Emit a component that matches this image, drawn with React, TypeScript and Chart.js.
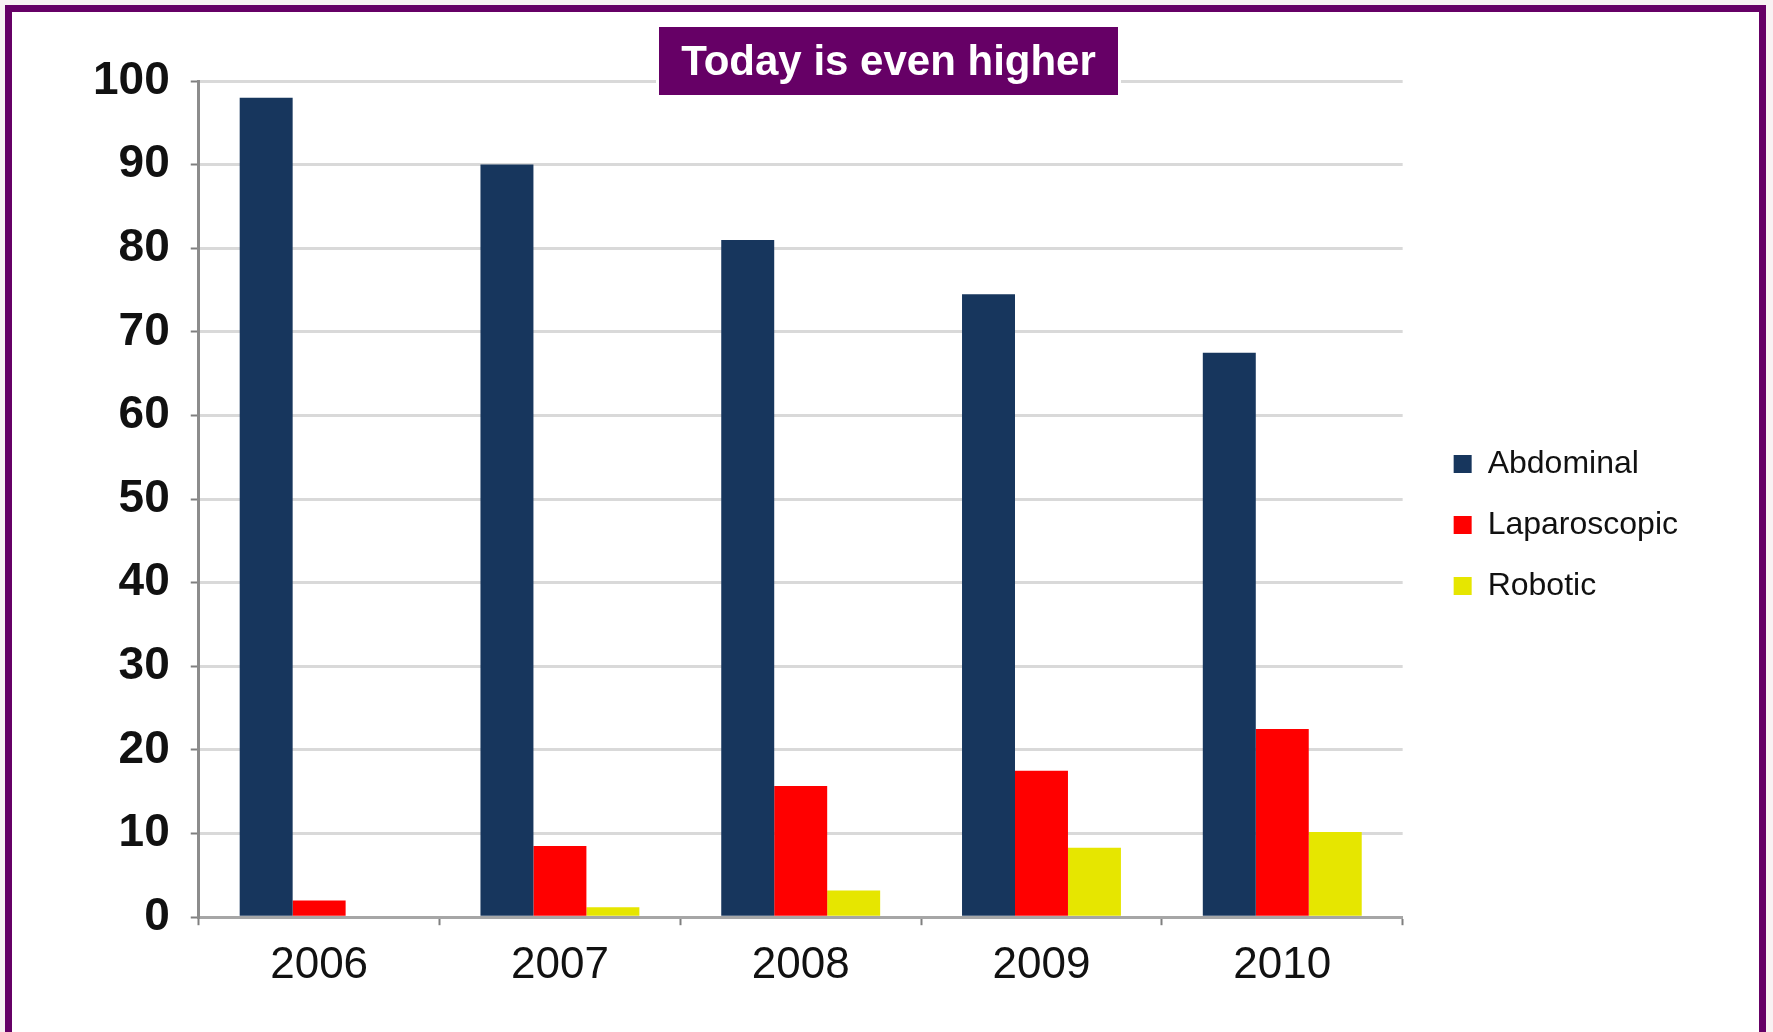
import React, { useEffect, useRef } from "react";
import { Chart, registerables } from "chart.js";

Chart.register(...registerables);

const categories = ["2006", "2007", "2008", "2009", "2010"];
const abdominal = [98, 90, 81, 74.5, 67.5];
const laparoscopic = [2, 8.5, 15.7, 17.5, 22.5];
const robotic = [0, 1.2, 3.2, 8.3, 10.2];
const seriesNames = ["Abdominal", "Laparoscopic", "Robotic"];
const yTicks = [0, 10, 20, 30, 40, 50, 60, 70, 80, 90, 100];
const titleText = "Today is even higher";

export default function App() {
  const ref = useRef<HTMLCanvasElement | null>(null);

  useEffect(() => {
    if (!ref.current) return;
    const chart = new Chart(ref.current, {
      type: "bar",
      data: {
        labels: categories,
        datasets: [
          { label: seriesNames[0], data: abdominal, backgroundColor: "#17365D" },
          { label: seriesNames[1], data: laparoscopic, backgroundColor: "#FF0000" },
          { label: seriesNames[2], data: robotic, backgroundColor: "#E6E600" },
        ],
      },
      options: {
        responsive: false,
        animation: false,
        devicePixelRatio: 1,
        layout: { padding: { left: 72, top: 81, right: 85, bottom: 26 } },
        datasets: { bar: { categoryPercentage: 0.66, barPercentage: 1 } },
        plugins: {
          tooltip: { enabled: false },
          title: { display: false },
          legend: {
            position: "right",
            fullSize: false,
            align: "center",
            title: { display: true, text: "", font: { size: 10 }, padding: 20 },
            labels: {
              boxWidth: 18,
              boxHeight: 18,
              padding: 29,
              color: "#111",
              font: { family: "'Liberation Sans', Arial, sans-serif", size: 32 },
            },
          },
        },
        scales: {
          x: {
            grid: {
              display: true,
              drawOnChartArea: false,
              drawTicks: true,
              tickLength: 8,
              tickColor: "#7f7f7f",
              tickWidth: 2,
            },
            border: { display: true, color: "#A6A6A6", width: 3 },
            ticks: {
              color: "#111",
              padding: 14,
              font: { family: "'Liberation Sans', Arial, sans-serif", size: 44 },
            },
          },
          y: {
            min: 0,
            max: 100,
            afterBuildTicks: (scale: any) => {
              scale.ticks = yTicks.map((v) => ({ value: v }));
            },
            grid: {
              color: "#D9D9D9",
              lineWidth: 3,
              drawTicks: true,
              tickLength: 8,
              tickColor: "#7f7f7f",
              tickWidth: 2,
            },
            border: { display: true, color: "#8C8C8C", width: 3 },
            ticks: {
              color: "#111",
              padding: 21,
              font: { family: "'Liberation Sans', Arial, sans-serif", size: 46, weight: "bold" },
            },
          },
          spacer: {
            type: "linear",
            position: "right",
            display: true,
            grid: { display: false, drawTicks: false },
            border: { display: false },
            ticks: { display: false },
            afterFit: (scale: any) => {
              scale.width = 22;
            },
          },
        },
      },
    });
    return () => chart.destroy();
  }, []);

  return (
    <div style={{ position: "fixed", left: 0, top: 0, width: 1773, height: 1032, background: "#F8F2F3", overflow: "hidden" }}>
      <div
        style={{
          position: "absolute",
          left: 5,
          top: 5,
          width: 1747,
          height: 1100,
          borderLeft: "7px solid #660066",
          borderTop: "7px solid #660066",
          borderRight: "7px solid #660066",
          background: "#FFFFFF",
        }}
      />
      <canvas ref={ref} width={1773} height={1032} style={{ position: "absolute", left: 0, top: 0, width: 1773, height: 1032 }} />
      <div
        style={{
          position: "absolute",
          left: 659,
          top: 27,
          width: 459,
          height: 68,
          background: "#660066",
          color: "#FFFFFF",
          fontFamily: "'Liberation Sans', Arial, sans-serif",
          fontWeight: "bold",
          fontSize: 42,
          lineHeight: "68px",
          textAlign: "center",
          boxShadow: "0 0 0 3px #FFFFFF",
        }}
      >
        {titleText}
      </div>
    </div>
  );
}
